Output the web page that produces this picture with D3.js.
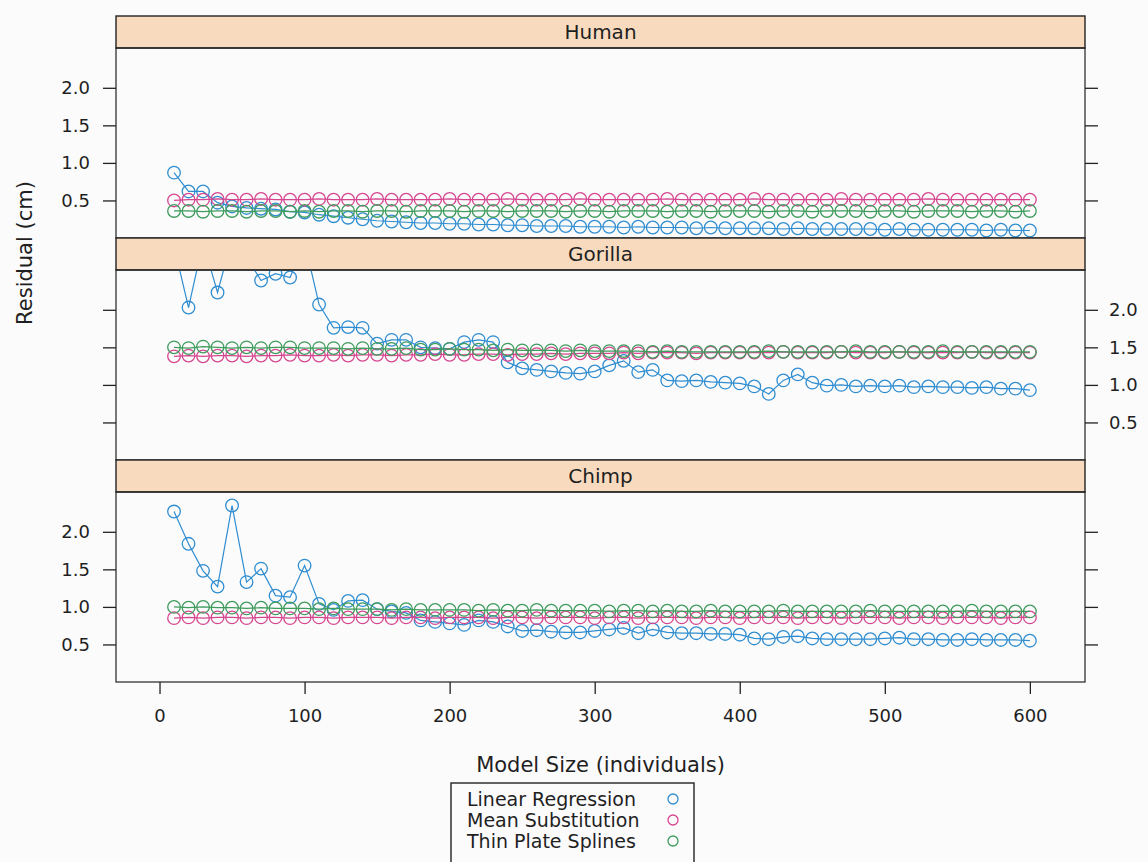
<!DOCTYPE html>
<html>
<head>
<meta charset="utf-8">
<script src="https://cdn.jsdelivr.net/npm/d3@7/dist/d3.min.js"></script>
<style>
    body { margin: 0; background: #fbfbfc; }
    svg text { font-family: "DejaVu Sans", sans-serif; fill: #1f1f1f; }
</style>
</head>
<body>
<svg id="chart" width="1148" height="862"></svg>
<script>
//model sizes on the x axis
var modelSizes = [10, 20, 30, 40, 50, 60, 70, 80, 90, 100,
    110, 120, 130, 140, 150, 160, 170, 180, 190, 200,
    210, 220, 230, 240, 250, 260, 270, 280, 290, 300,
    310, 320, 330, 340, 350, 360, 370, 380, 390, 400,
    410, 420, 430, 440, 450, 460, 470, 480, 490, 500,
    510, 520, 530, 540, 550, 560, 570, 580, 590, 600];

//panel and series names
var panelNames = ['Human', 'Gorilla', 'Chimp'];
var seriesNames = ['Linear Regression', 'Mean Substitution', 'Thin Plate Splines'];
var seriesColors = ['#2f8dd0', '#d6468f', '#3f9b5c'];

//tick values
var xTicks = [0, 100, 200, 300, 400, 500, 600];
var yTicks = [0.5, 1.0, 1.5, 2.0];

//human residuals
var humanLinear = [0.87, 0.62, 0.62, 0.47, 0.42, 0.40, 0.39, 0.38, 0.35, 0.34,
    0.31, 0.29, 0.27, 0.25, 0.23, 0.22, 0.21, 0.20, 0.20, 0.19,
    0.19, 0.18, 0.18, 0.17, 0.17, 0.16, 0.16, 0.16, 0.15, 0.15,
    0.15, 0.14, 0.15, 0.14, 0.14, 0.14, 0.13, 0.14, 0.13, 0.13,
    0.13, 0.13, 0.12, 0.13, 0.12, 0.12, 0.12, 0.12, 0.12, 0.11,
    0.12, 0.11, 0.11, 0.11, 0.11, 0.11, 0.10, 0.11, 0.10, 0.10];
var humanMean = [0.50, 0.51, 0.51, 0.52, 0.51, 0.51, 0.52, 0.51, 0.51, 0.51,
    0.52, 0.51, 0.51, 0.51, 0.52, 0.51, 0.51, 0.51, 0.51, 0.52,
    0.51, 0.51, 0.51, 0.52, 0.51, 0.51, 0.51, 0.51, 0.52, 0.51,
    0.51, 0.51, 0.51, 0.51, 0.52, 0.51, 0.51, 0.51, 0.51, 0.51,
    0.52, 0.51, 0.51, 0.51, 0.51, 0.51, 0.52, 0.51, 0.51, 0.51,
    0.51, 0.51, 0.52, 0.51, 0.51, 0.51, 0.51, 0.51, 0.51, 0.51];
var humanSpline = [0.36, 0.36, 0.35, 0.36, 0.36, 0.35, 0.36, 0.36, 0.35, 0.36,
    0.35, 0.36, 0.36, 0.35, 0.36, 0.36, 0.35, 0.36, 0.36, 0.36,
    0.35, 0.36, 0.36, 0.35, 0.36, 0.36, 0.36, 0.35, 0.36, 0.36,
    0.35, 0.36, 0.36, 0.36, 0.35, 0.36, 0.36, 0.35, 0.36, 0.36,
    0.36, 0.35, 0.36, 0.36, 0.35, 0.36, 0.36, 0.36, 0.35, 0.36,
    0.36, 0.35, 0.36, 0.36, 0.36, 0.35, 0.36, 0.36, 0.35, 0.36];

//gorilla residuals
var gorillaLinear = [2.85, 2.03, 2.90, 2.23, 2.95, 2.70, 2.39, 2.48, 2.43, 2.90,
    2.07, 1.76, 1.77, 1.76, 1.55, 1.60, 1.60, 1.50, 1.49, 1.48,
    1.57, 1.60, 1.57, 1.30, 1.22, 1.20, 1.18, 1.16, 1.15, 1.18,
    1.26, 1.32, 1.17, 1.20, 1.06, 1.05, 1.06, 1.04, 1.03, 1.02,
    0.98, 0.88, 1.06, 1.14, 1.03, 0.99, 1.00, 0.98, 0.99, 0.98,
    0.99, 0.97, 0.98, 0.97, 0.97, 0.96, 0.97, 0.95, 0.95, 0.93];
var gorillaMean = [1.38, 1.39, 1.38, 1.39, 1.39, 1.38, 1.39, 1.39, 1.40, 1.39,
    1.39, 1.40, 1.39, 1.40, 1.40, 1.39, 1.40, 1.40, 1.41, 1.40,
    1.40, 1.41, 1.41, 1.40, 1.41, 1.41, 1.42, 1.41, 1.42, 1.42,
    1.42, 1.43, 1.42, 1.43, 1.43, 1.43, 1.42, 1.43, 1.43, 1.43,
    1.43, 1.43, 1.44, 1.43, 1.43, 1.43, 1.44, 1.43, 1.43, 1.43,
    1.44, 1.43, 1.43, 1.43, 1.43, 1.44, 1.43, 1.43, 1.43, 1.43];
var gorillaSpline = [1.50, 1.49, 1.51, 1.50, 1.49, 1.50, 1.49, 1.50, 1.50, 1.49,
    1.49, 1.49, 1.48, 1.49, 1.48, 1.48, 1.49, 1.47, 1.47, 1.48,
    1.47, 1.47, 1.46, 1.47, 1.46, 1.46, 1.46, 1.45, 1.46, 1.45,
    1.45, 1.45, 1.45, 1.44, 1.45, 1.44, 1.44, 1.44, 1.44, 1.44,
    1.44, 1.45, 1.44, 1.44, 1.44, 1.44, 1.44, 1.45, 1.44, 1.44,
    1.44, 1.44, 1.44, 1.45, 1.44, 1.44, 1.44, 1.44, 1.44, 1.44];

//chimp residuals
var chimpLinear = [2.27, 1.84, 1.48, 1.27, 2.35, 1.33, 1.51, 1.15, 1.13, 1.55,
    1.04, 0.96, 1.08, 1.09, 0.97, 0.94, 0.92, 0.82, 0.80, 0.78,
    0.76, 0.82, 0.80, 0.74, 0.68, 0.69, 0.67, 0.66, 0.66, 0.68,
    0.70, 0.72, 0.65, 0.70, 0.66, 0.65, 0.65, 0.64, 0.64, 0.63,
    0.58, 0.57, 0.60, 0.61, 0.58, 0.57, 0.57, 0.57, 0.57, 0.58,
    0.59, 0.57, 0.57, 0.56, 0.56, 0.57, 0.56, 0.56, 0.56, 0.55];
var chimpMean = [0.85, 0.86, 0.85, 0.86, 0.86, 0.85, 0.86, 0.86, 0.85, 0.86,
    0.86, 0.85, 0.86, 0.86, 0.86, 0.85, 0.86, 0.86, 0.85, 0.86,
    0.86, 0.86, 0.85, 0.86, 0.86, 0.85, 0.86, 0.86, 0.86, 0.85,
    0.86, 0.86, 0.85, 0.86, 0.86, 0.86, 0.85, 0.86, 0.86, 0.85,
    0.86, 0.86, 0.86, 0.85, 0.86, 0.86, 0.85, 0.86, 0.86, 0.86,
    0.85, 0.86, 0.86, 0.85, 0.86, 0.86, 0.86, 0.85, 0.86, 0.86];
var chimpSpline = [1.00, 0.99, 1.00, 0.99, 0.99, 0.98, 0.99, 0.98, 0.98, 0.98,
    0.97, 0.98, 0.97, 0.97, 0.97, 0.96, 0.97, 0.96, 0.96, 0.96,
    0.96, 0.95, 0.96, 0.95, 0.95, 0.96, 0.95, 0.95, 0.95, 0.95,
    0.94, 0.95, 0.95, 0.94, 0.95, 0.94, 0.94, 0.95, 0.94, 0.94,
    0.94, 0.94, 0.95, 0.94, 0.94, 0.94, 0.94, 0.94, 0.95, 0.94,
    0.94, 0.94, 0.94, 0.94, 0.94, 0.95, 0.94, 0.94, 0.94, 0.94];

//panel values, top to bottom
var panelSeries = [
    [humanLinear, humanMean, humanSpline],
    [gorillaLinear, gorillaMean, gorillaSpline],
    [chimpLinear, chimpMean, chimpSpline]
];

//labels of y ticks on the left (true) or right (false), lattice alternates
var labelLeft = [true, false, true];

//layout
var plot = { left: 116, right: 1085, top: 16, strip: 32, panel: 190 },
    svg = d3.select('#chart');

//scales shared by all panels
var x = d3.scaleLinear().domain([-30, 638]).range([plot.left, plot.right]),
    y = d3.scaleLinear().domain([0, 2.53]).range([plot.panel, 0]);

var line = d3.line()
    .x(function (d) { return x(d.x); })
    .y(function (d) { return y(d.y); });

//draw each panel with its strip
panelNames.forEach(function (name, p) {
    var stripTop = plot.top + p * (plot.strip + plot.panel),
        panelTop = stripTop + plot.strip,
        width = plot.right - plot.left;

    //strip
    svg.append('rect')
        .attr('x', plot.left).attr('y', stripTop)
        .attr('width', width).attr('height', plot.strip)
        .attr('fill', '#f8dbbf')
        .attr('stroke', '#222').attr('stroke-width', 1.4);

    svg.append('text')
        .attr('x', (plot.left + plot.right) / 2)
        .attr('y', stripTop + plot.strip / 2)
        .attr('dy', '0.36em')
        .attr('text-anchor', 'middle')
        .style('font-size', '20px')
        .text(name);

    var g = svg.append('g').attr('transform', 'translate(0,' + panelTop + ')');

    //clip marks to the panel
    g.append('clipPath').attr('id', 'clip-' + p)
        .append('rect')
        .attr('x', plot.left).attr('y', 0)
        .attr('width', width).attr('height', plot.panel);

    //y axes on both sides, labels only on one side
    var leftAxis = d3.axisLeft(y).tickValues(yTicks).tickSize(13).tickPadding(13)
        .tickFormat(labelLeft[p] ? d3.format('.1f') : '');
    var rightAxis = d3.axisRight(y).tickValues(yTicks).tickSize(13).tickPadding(11)
        .tickFormat(labelLeft[p] ? '' : d3.format('.1f'));

    g.append('g').attr('class', 'axis').attr('transform', 'translate(' + plot.left + ',0)').call(leftAxis);
    g.append('g').attr('class', 'axis').attr('transform', 'translate(' + plot.right + ',0)').call(rightAxis);

    //series lines and open circles
    var marks = g.append('g').attr('clip-path', 'url(#clip-' + p + ')');
    panelSeries[p].forEach(function (values, s) {
        var pts = modelSizes.map(function (m, i) { return { x: m, y: values[i] }; });

        marks.append('path')
            .datum(pts)
            .attr('d', line)
            .attr('fill', 'none')
            .attr('stroke', seriesColors[s])
            .attr('stroke-width', 1.2);

        marks.selectAll('circle.s' + s)
            .data(pts)
            .enter().append('circle')
            .attr('class', 's' + s)
            .attr('cx', function (d) { return x(d.x); })
            .attr('cy', function (d) { return y(d.y); })
            .attr('r', 6.3)
            .attr('fill', 'none')
            .attr('stroke', seriesColors[s])
            .attr('stroke-width', 1.3);
    });

    //panel box
    g.append('rect')
        .attr('x', plot.left).attr('y', 0)
        .attr('width', width).attr('height', plot.panel)
        .attr('fill', 'none')
        .attr('stroke', '#222').attr('stroke-width', 1.2);

    //x axis under the bottom panel
    if (p === panelNames.length - 1) {
        g.append('g').attr('class', 'axis')
            .attr('transform', 'translate(0,' + plot.panel + ')')
            .call(d3.axisBottom(x).tickValues(xTicks).tickSize(12).tickPadding(15));
    }
});

//axis styling
svg.selectAll('.axis .domain').remove();
svg.selectAll('.axis line').attr('stroke', '#222').attr('stroke-width', 1.3);
svg.selectAll('.axis text').style('font-size', '18px').attr('fill', '#1f1f1f')
    .style('font-family', '"DejaVu Sans", sans-serif');

//axis titles
svg.append('text')
    .attr('x', (plot.left + plot.right) / 2).attr('y', 772)
    .attr('text-anchor', 'middle')
    .style('font-size', '21px')
    .text('Model Size (individuals)');

svg.append('text')
    .attr('transform', 'translate(32,253) rotate(-90)')
    .attr('text-anchor', 'middle')
    .style('font-size', '21px')
    .text('Residual (cm)');

//legend box, it runs past the bottom edge
var legend = svg.append('g');
legend.append('rect')
    .attr('x', 451).attr('y', 783)
    .attr('width', 243).attr('height', 100)
    .attr('fill', 'none')
    .attr('stroke', '#222').attr('stroke-width', 1.4);

seriesNames.forEach(function (name, s) {
    var rowY = 799 + s * 21;
    legend.append('text')
        .attr('x', 467).attr('y', rowY)
        .attr('dy', '0.36em')
        .style('font-size', '19px')
        .text(name);
    legend.append('circle')
        .attr('cx', 673).attr('cy', rowY)
        .attr('r', 5)
        .attr('fill', 'none')
        .attr('stroke', seriesColors[s])
        .attr('stroke-width', 1.3);
});
</script>
</body>
</html>
